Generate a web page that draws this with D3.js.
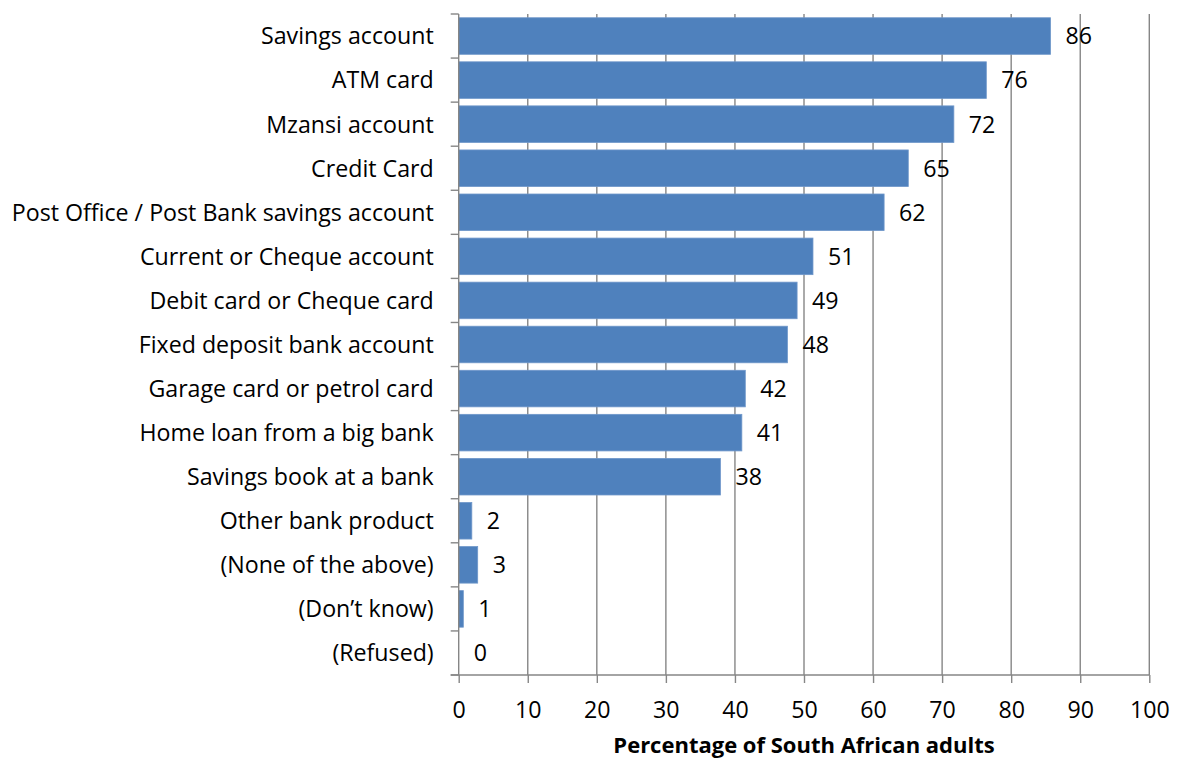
<!DOCTYPE html>
<html>
<head>
<meta charset="utf-8">
<script src="https://cdn.jsdelivr.net/npm/d3@7"></script>
<style>
  html, body { margin: 0; padding: 0; background: #fff; }
  svg { display: block; }
  text { font-family: "Open Sans", "Noto Sans", sans-serif; fill: #000; }
</style>
</head>
<body>
<svg id="chart" width="1177" height="760"></svg>
<script>
// Banking products held by South African adults (%)
const categories = [
  "Savings account",
  "ATM card",
  "Mzansi account",
  "Credit Card",
  "Post Office / Post Bank savings account",
  "Current or Cheque account",
  "Debit card or Cheque card",
  "Fixed deposit bank account",
  "Garage card or petrol card",
  "Home loan from a big bank",
  "Savings book at a bank",
  "Other bank product",
  "(None of the above)",
  "(Don\u2019t know)",
  "(Refused)"
];
const values = [85.7, 76.4, 71.7, 65.1, 61.6, 51.3, 49.0, 47.6, 41.5, 41.0, 37.9, 1.9, 2.75, 0.67, 0];
const xTicks = [0, 10, 20, 30, 40, 50, 60, 70, 80, 90, 100];
const xTitle = "Percentage of South African adults";

const svg = d3.select("#chart");
const m = { left: 458.7, right: 1149.3, top: 14, bottom: 675 };

const x = d3.scaleLinear().domain([0, 100]).range([m.left, m.right]);
const y = d3.scaleBand().domain(categories).range([m.top, m.bottom])
  .paddingInner(0.17).paddingOuter(0.085);

const grey = "#868686";
const fontSize = 23.2;

// vertical gridlines
svg.append("g").selectAll("line")
  .data(xTicks.filter(t => t > 0))
  .join("line")
  .attr("x1", d => x(d)).attr("x2", d => x(d))
  .attr("y1", m.top).attr("y2", m.bottom)
  .attr("stroke", grey).attr("stroke-width", 1.4);

// bars
svg.append("g").selectAll("rect")
  .data(values.map((v, i) => ({ c: categories[i], v })))
  .join("rect")
  .attr("x", x(0))
  .attr("y", d => y(d.c))
  .attr("width", d => x(d.v) - x(0))
  .attr("height", y.bandwidth())
  .attr("fill", "#4F81BD")
  .attr("stroke", d => d.v > 0 ? "#6F97CA" : "none")
  .attr("stroke-width", 0.8);

// value labels
svg.append("g").selectAll("text")
  .data(values.map((v, i) => ({ c: categories[i], v })))
  .join("text")
  .attr("x", d => x(d.v) + 15)
  .attr("y", d => y(d.c) + y.bandwidth() / 2)
  .attr("dy", "0.36em")
  .attr("font-size", fontSize)
  .text(d => d3.format(".0f")(d.v));

// category (left) axis
const yAxis = svg.append("g");
yAxis.append("line")
  .attr("x1", m.left).attr("x2", m.left)
  .attr("y1", m.top).attr("y2", m.bottom)
  .attr("stroke", grey).attr("stroke-width", 1.4);
const bounds = d3.range(categories.length + 1).map(i => m.top + i * y.step());
yAxis.selectAll("line.tick")
  .data(bounds)
  .join("line").attr("class", "tick")
  .attr("x1", m.left - 8).attr("x2", m.left)
  .attr("y1", d => d).attr("y2", d => d)
  .attr("stroke", grey).attr("stroke-width", 1.4);
yAxis.selectAll("text")
  .data(categories)
  .join("text")
  .attr("x", m.left - 25)
  .attr("y", d => y(d) + y.bandwidth() / 2)
  .attr("dy", "0.36em")
  .attr("text-anchor", "end")
  .attr("font-size", fontSize)
  .text(d => d);

// value (bottom) axis
const xAxis = svg.append("g")
  .attr("transform", `translate(0,${m.bottom})`)
  .call(d3.axisBottom(x).tickValues(xTicks).tickSize(8).tickPadding(19).tickFormat(d3.format("d")));
xAxis.select(".domain").attr("stroke", grey).attr("stroke-width", 1.4)
  .attr("d", `M${m.left - 8},0H${m.right}`);
xAxis.selectAll(".tick line").attr("stroke", grey).attr("stroke-width", 1.4);
xAxis.selectAll(".tick text")
  .attr("font-size", fontSize)
  .attr("font-family", "\"Open Sans\", sans-serif")
  .attr("fill", "#000");

// axis title
svg.append("text")
  .attr("x", (m.left + m.right) / 2)
  .attr("y", 753)
  .attr("text-anchor", "middle")
  .attr("font-size", 22)
  .attr("font-weight", "bold")
  .text(xTitle);
</script>
</body>
</html>
